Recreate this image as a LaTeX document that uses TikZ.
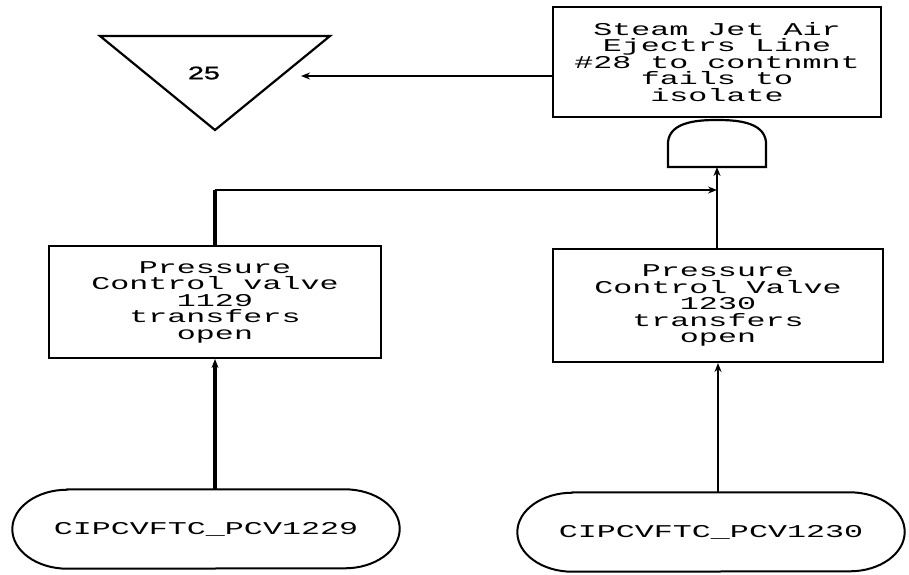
\documentclass[tikz,border=0pt]{standalone}
\usepackage{fontspec}
\usetikzlibrary{arrows.meta}
\newfontfamily\pixfont[FakeStretch=1.76]{Liberation Mono}
\newfontfamily\numfont[FakeStretch=1.6,FakeBold=1.5]{Liberation Sans}
\begin{document}
\begin{tikzpicture}[x=1pt,y=-1pt,
  evbox/.style={draw,line width=2pt,minimum width=#1,inner sep=0pt,
    font=\pixfont\fontsize{18}{16.5}\selectfont,align=center},
  basic/.style={inner sep=0pt,minimum width=387pt,minimum height=79pt,
    font=\pixfont\fontsize{18}{18}\selectfont},
  outline/.style={line width=2pt},
  wire/.style={line width=2pt},
  thickwire/.style={line width=3.2pt},
  tip/.style={-{Stealth[length=9pt,width=7pt]}}]
\useasboundingbox (0,0) rectangle (909,574);

% top event
\node[evbox=328pt,minimum height=110pt] (top) at (717,62)
  {Steam Jet Air\\Ejectrs Line\\\#28 to contnmnt\\fails to\\isolate};

% transfer triangle
\draw[line width=2.2pt,line join=miter] (100,36) -- (330,36) -- (215,130) -- cycle;
\node[font=\numfont\fontsize{18}{18}\selectfont] (tr25) at (204,73) {25};
\coordinate (trin) at (301,76);

% AND gate
\draw[line width=2.2pt] (668,167) -- (668,142)
  .. controls (670,121) and (700,120) .. (717,120)
  .. controls (734,120) and (764,121) .. (766,142) -- (766,167) -- cycle;
\coordinate (gate) at (717,167);

% intermediate events
\node[evbox=332pt,minimum height=112pt] (pcvl) at (215,302)
  {Pressure\\Control valve\\1129\\transfers\\open};
\node[evbox=330pt,minimum height=113pt] (pcvr) at (718,305.5)
  {Pressure\\Control Valve\\1230\\transfers\\open};

% basic events: flat top and bottom with elliptical ends
\node[basic] (bl) at (206,529) {CIPCVFTC\_PCV1229};
\node[basic] (br) at (711,532) {CIPCVFTC\_PCV1230};
\foreach \b in {bl,br}{
  \draw[outline] ([xshift=55pt]\b.north west) -- ([xshift=-55pt]\b.north east)
    arc[start angle=-90,end angle=90,x radius=55,y radius=39.5]
    -- ([xshift=55pt]\b.south west)
    arc[start angle=90,end angle=270,x radius=55,y radius=39.5] -- cycle;
}

% connectors
\draw[wire,tip] (top.west |- trin) -- (trin);
\draw[wire,tip] (pcvr.north -| gate) -- (gate);
\coordinate (elbow) at (215,190);
\draw[thickwire] (pcvl.north) -- (elbow);
\draw[wire,tip] (elbow) -- (elbow -| gate);
\draw[thickwire,tip] (bl.north -| pcvl.south) -- (pcvl.south);
\draw[wire,tip] (br.north -| pcvr.south) -- (pcvr.south);
\end{tikzpicture}
\end{document}
